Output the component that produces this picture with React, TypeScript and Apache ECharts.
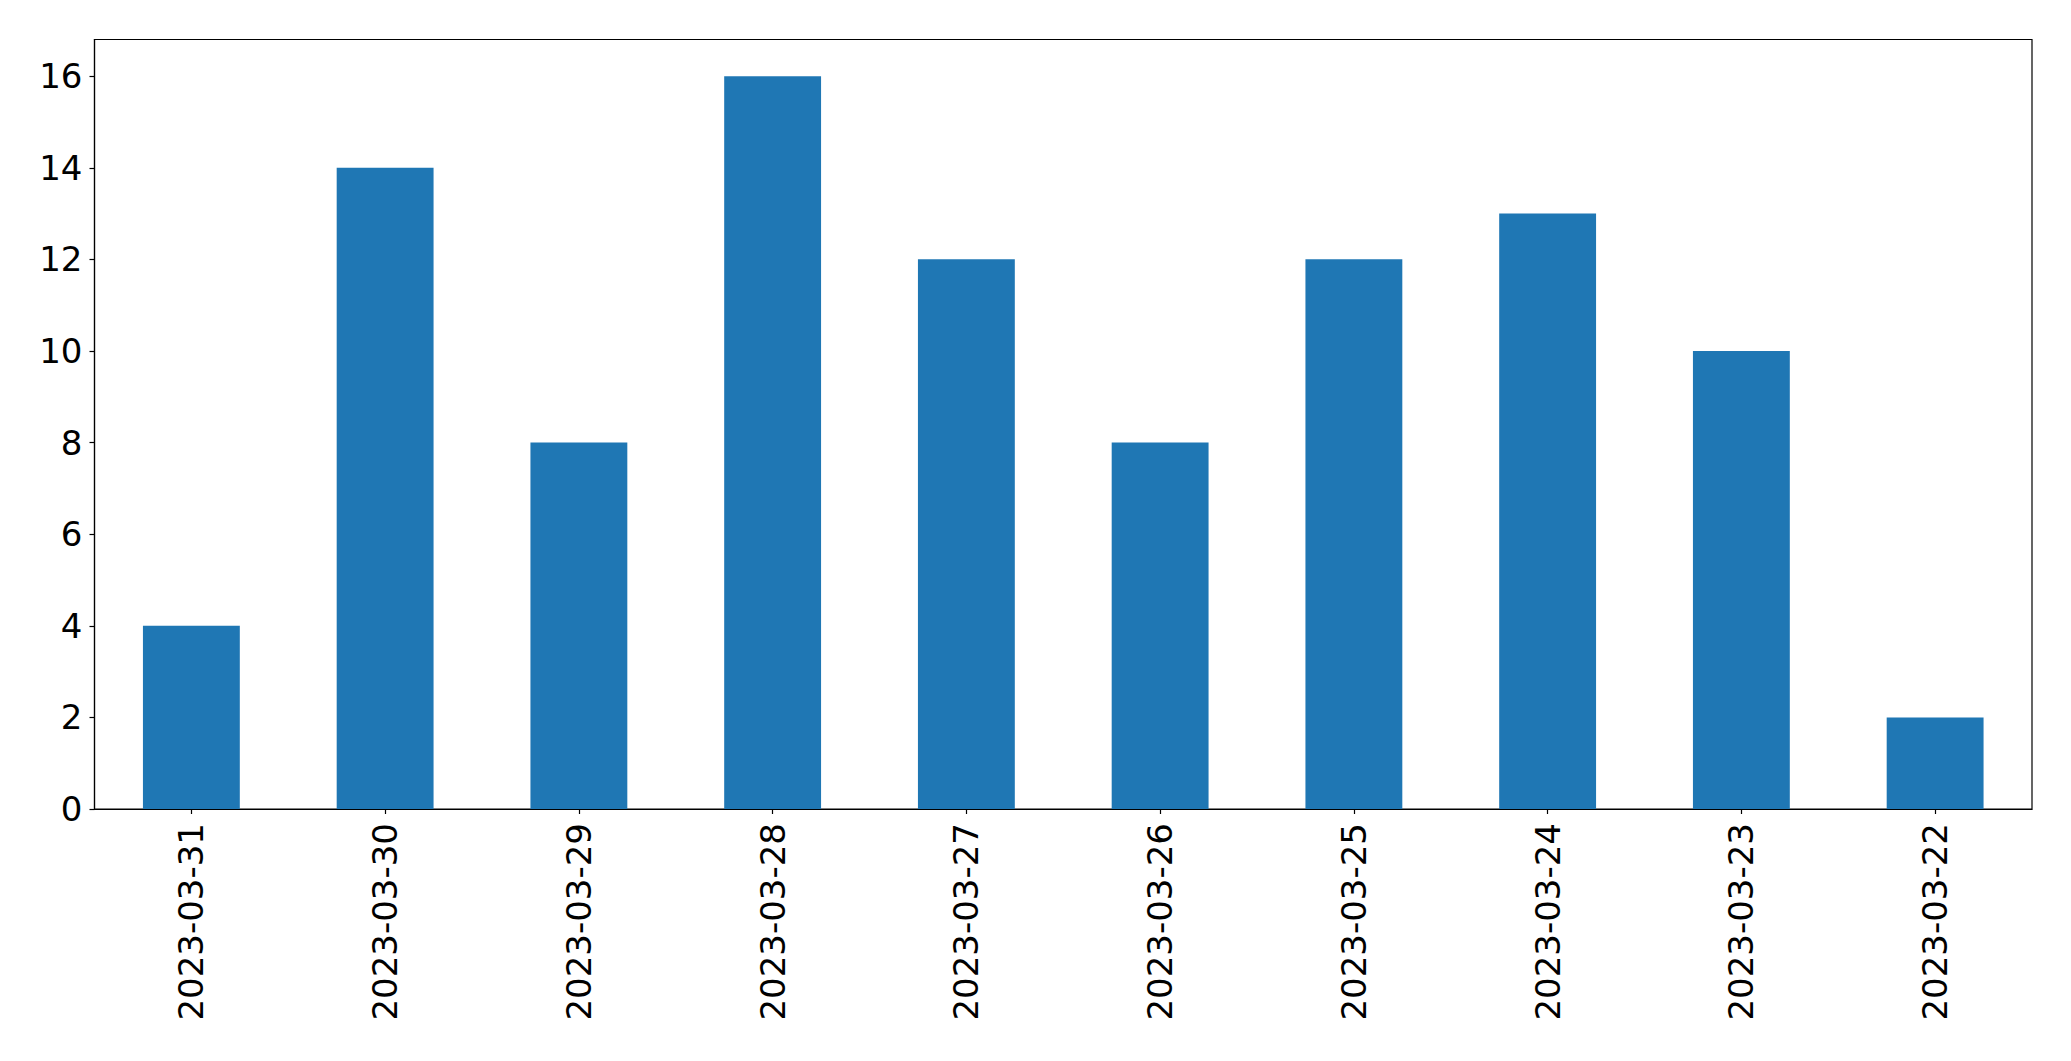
import React, { useEffect, useRef } from "react";
import * as echarts from "echarts";

const categories = [
  "2023-03-31", "2023-03-30", "2023-03-29", "2023-03-28", "2023-03-27",
  "2023-03-26", "2023-03-25", "2023-03-24", "2023-03-23", "2023-03-22",
];
const values = [4, 14, 8, 16, 12, 8, 12, 13, 10, 2];
const yTicks = [0, 2, 4, 6, 8, 10, 12, 14, 16];

export default function App() {
  const ref = useRef<HTMLDivElement>(null);
  useEffect(() => {
    if (!ref.current) return;
    const chart = echarts.init(ref.current, null, { renderer: "svg" });
    const font = "DejaVu Sans";
    chart.setOption({
      animation: false,
      backgroundColor: "#ffffff",
      grid: {
        left: 94.5,
        top: 39.5,
        right: 39,
        bottom: 252,
        show: true,
        borderColor: "#000000",
        borderWidth: 1.2,
        containLabel: false,
      },
      xAxis: {
        type: "category",
        data: categories,
        axisLine: { show: true, lineStyle: { color: "#000000", width: 1.2 } },
        axisTick: { show: true, alignWithLabel: true, length: 5, lineStyle: { color: "#000000", width: 1.2 } },
        axisLabel: {
          rotate: 90,
          margin: 14,
          color: "#000000",
          fontFamily: font,
          fontSize: 34,
        },
        splitLine: { show: false },
      },
      yAxis: {
        type: "value",
        min: 0,
        max: 16.8,
        interval: 2,
        axisLine: { show: true, lineStyle: { color: "#000000", width: 1.2 } },
        axisTick: { show: true, length: 5, customValues: yTicks, lineStyle: { color: "#000000", width: 1.2 } },
        axisLabel: {
          customValues: yTicks,
          margin: 12,
          color: "#000000",
          fontFamily: font,
          fontSize: 34,
        },
        splitLine: { show: false },
      },
      series: [
        {
          type: "bar",
          data: values,
          barWidth: "50%",
          itemStyle: { color: "#1f77b4" },
        },
      ],
    });
    return () => chart.dispose();
  }, []);
  return (
    <div
      ref={ref}
      style={{ position: "absolute", left: 0, top: 0, width: 2071, height: 1061, background: "#fff" }}
    />
  );
}
